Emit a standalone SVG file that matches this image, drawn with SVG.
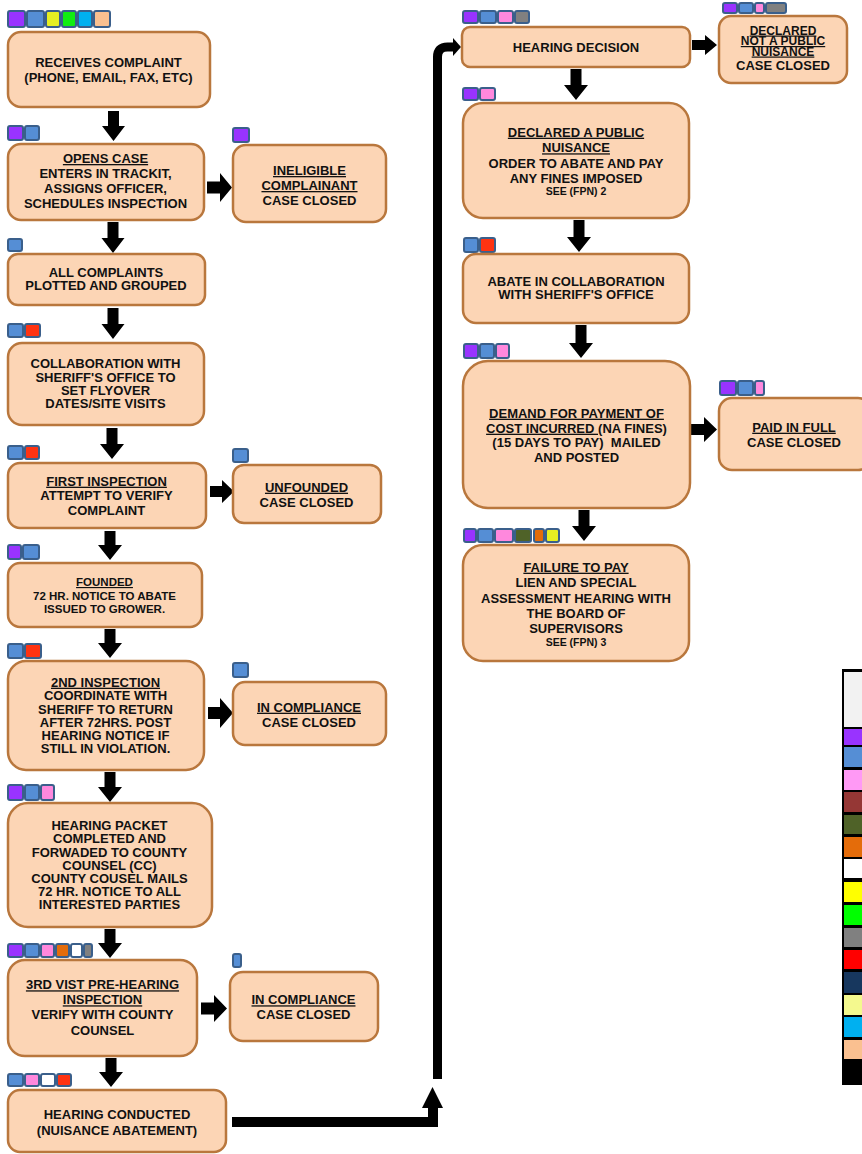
<svg xmlns="http://www.w3.org/2000/svg" width="862" height="1154" viewBox="0 0 862 1154">
<style>
.box{fill:#FCD5B5;stroke:#B9773D;stroke-width:2.5}
.t{font-family:"Liberation Sans",Arial,sans-serif;font-weight:bold;font-size:13px;text-anchor:middle;fill:#111}
.s{font-size:11.5px}
.xs{font-size:10.5px}
.m{font-size:12px}
.u{text-decoration:underline}
.bd rect{stroke:#3A5F8B;stroke-width:2}
.arr{fill:#000}
.pu{fill:#9933FF}.bl{fill:#558ED5}.ye{fill:#E6EF22}.gr{fill:#11EE11}.cy{fill:#00B0F0}.pe{fill:#FAC090}
.re{fill:#FF3311}.pk{fill:#FF88DD}.or{fill:#E46C0A}.wh{fill:#FFFFFF}.gy{fill:#808080}.ol{fill:#4F6228}
</style>
<rect width="862" height="1154" fill="#FFFFFF"/>

<!-- connectors -->
<g id="connectors" class="arr">
<polygon points="108,111 119,111 119,126 125,126 113.5,141 102,126 108,126"/>
<polygon points="107.5,222 118.5,222 118.5,238 124.5,238 113,253 101.5,238 107.5,238"/>
<polygon points="107.5,308 118.5,308 118.5,324 124.5,324 113,339 101.5,324 107.5,324"/>
<polygon points="106.5,428 117.5,428 117.5,444 124,444 112,459 100,444 106.5,444"/>
<polygon points="104.5,531 115.5,531 115.5,545 122,545 110,560 98,545 104.5,545"/>
<polygon points="104.5,629 115.5,629 115.5,643 122,643 110,658 98,643 104.5,643"/>
<polygon points="104.5,772 115.5,772 115.5,787 122,787 110,802 98,787 104.5,787"/>
<polygon points="104.5,929 115.5,929 115.5,943 122,943 110,958 98,943 104.5,943"/>
<polygon points="105.5,1058 116.5,1058 116.5,1072 123,1072 111,1087 99,1072 105.5,1072"/>
<polygon points="207,181.5 220,181.5 220,173 232,187.5 220,202 220,193.5 207,193.5"/>
<polygon points="210,486 222,486 222,480 234,491.5 222,503 222,497 210,497"/>
<polygon points="208,707 220,707 220,698 233,713 220,728 220,719 208,719"/>
<polygon points="201,1002.5 214,1002.5 214,995 227,1008.5 214,1022 214,1014.5 201,1014.5"/>
<polygon points="692,40 705,40 705,35 717,45 705,55 705,50 692,50"/>
<polygon points="691,424 704,424 704,417 717,429.5 704,442 704,435 691,435"/>
<polygon points="570.5,69 581.5,69 581.5,85 588,85 576,100 564,85 570.5,85"/>
<polygon points="573.5,220 584.5,220 584.5,237 591,237 579,252 567,237 573.5,237"/>
<polygon points="575.5,325 586.5,325 586.5,343 593,343 581,358 569,343 575.5,343"/>
<polygon points="578.5,510 589.5,510 589.5,526 596,526 584,541 572,526 578.5,526"/>
<polygon points="232,1117 428,1117 428,1108 422,1108 432.5,1087 443,1108 438,1108 438,1127 232,1127"/>
<path d="M437.5,1079 V57 Q437.5,47 447.5,47 H455" fill="none" stroke="#000" stroke-width="9"/>
<polygon points="453,38 461,47 453,56"/>
</g>

<g id="n1">
<g class="bd"><rect class="pu" x="8" y="11" width="17" height="16" rx="2"/><rect class="bl" x="27" y="11" width="17" height="16" rx="2"/><rect class="ye" x="46" y="11" width="14" height="16" rx="2"/><rect class="gr" x="62" y="11" width="14" height="16" rx="2"/><rect class="cy" x="78" y="11" width="14" height="16" rx="2"/><rect class="pe" x="94" y="11" width="16" height="16" rx="2"/></g>
<rect class="box" x="8" y="32" width="202" height="75" rx="13"/>
<text class="t" x="108.5" y="67">RECEIVES COMPLAINT</text>
<text class="t" x="108.5" y="82">(PHONE, EMAIL, FAX, ETC)</text>
</g>

<g id="n2">
<g class="bd"><rect class="pu" x="8" y="126" width="15" height="14" rx="2"/><rect class="bl" x="25" y="126" width="14" height="14" rx="2"/></g>
<rect class="box" x="8" y="144" width="196" height="76" rx="13"/>
<text class="t" x="105.5" y="163"><tspan class="u">OPENS CASE</tspan></text>
<text class="t" x="105.5" y="178">ENTERS IN TRACKIT,</text>
<text class="t" x="105.5" y="193">ASSIGNS OFFICER,</text>
<text class="t" x="105.5" y="207.5">SCHEDULES INSPECTION</text>
</g>

<g id="n2b">
<g class="bd"><rect class="pu" x="233" y="128" width="16" height="14" rx="2"/></g>
<rect class="box" x="233" y="145" width="153" height="77" rx="13"/>
<text class="t" x="309.5" y="175"><tspan class="u">INELIGIBLE</tspan></text>
<text class="t" x="309.5" y="190"><tspan class="u">COMPLAINANT</tspan></text>
<text class="t" x="309.5" y="205">CASE CLOSED</text>
</g>

<g id="n3">
<g class="bd"><rect class="bl" x="8" y="239" width="14" height="12" rx="2"/></g>
<rect class="box" x="8" y="254" width="197" height="51" rx="10"/>
<text class="t" x="106" y="277">ALL COMPLAINTS</text>
<text class="t" x="106" y="289.5">PLOTTED AND GROUPED</text>
</g>

<g id="n4">
<g class="bd"><rect class="bl" x="8" y="324" width="15" height="13" rx="2"/><rect class="re" x="25" y="324" width="15" height="13" rx="2"/></g>
<rect class="box" x="8" y="343" width="196" height="82" rx="14"/>
<text class="t" x="105.5" y="368.3">COLLABORATION WITH</text>
<text class="t" x="105.5" y="381.5">SHERIFF'S OFFICE TO</text>
<text class="t" x="105.5" y="394.5">SET FLYOVER</text>
<text class="t" x="105.5" y="407.5">DATES/SITE VISITS</text>
</g>

<g id="n5">
<g class="bd"><rect class="bl" x="8" y="446" width="15" height="13" rx="2"/><rect class="re" x="25" y="446" width="14" height="13" rx="2"/></g>
<rect class="box" x="8" y="463" width="198" height="65" rx="12"/>
<text class="t" x="106.5" y="485.7"><tspan class="u">FIRST INSPECTION</tspan></text>
<text class="t" x="106.5" y="500">ATTEMPT TO VERIFY</text>
<text class="t" x="106.5" y="515">COMPLAINT</text>
</g>

<g id="n5b">
<g class="bd"><rect class="bl" x="233" y="449" width="15" height="13" rx="2"/></g>
<rect class="box" x="233" y="465" width="148" height="58" rx="11"/>
<text class="t" x="306.5" y="491.7"><tspan class="u">UNFOUNDED</tspan></text>
<text class="t" x="306.5" y="507.3">CASE CLOSED</text>
</g>

<g id="n6">
<g class="bd"><rect class="pu" x="8" y="545" width="13" height="14" rx="2"/><rect class="bl" x="23" y="545" width="16" height="14" rx="2"/></g>
<rect class="box" x="8" y="563" width="194" height="64" rx="12"/>
<text class="t s" x="104.5" y="586"><tspan class="u">FOUNDED</tspan></text>
<text class="t s" x="104.5" y="599.5">72 HR. NOTICE TO ABATE</text>
<text class="t s" x="104.5" y="613.3">ISSUED TO GROWER.</text>
</g>

<g id="n7">
<g class="bd"><rect class="bl" x="8" y="644" width="15" height="14" rx="2"/><rect class="re" x="25" y="644" width="16" height="14" rx="2"/></g>
<rect class="box" x="8" y="661" width="196" height="109" rx="18"/>
<text class="t" x="105.5" y="686.7"><tspan class="u">2ND INSPECTION</tspan></text>
<text class="t" x="105.5" y="700.3">COORDINATE WITH</text>
<text class="t" x="105.5" y="713.6">SHERIFF TO RETURN</text>
<text class="t" x="105.5" y="726.9">AFTER 72HRS. POST</text>
<text class="t" x="105.5" y="740">HEARING NOTICE IF</text>
<text class="t" x="105.5" y="753">STILL IN VIOLATION.</text>
</g>

<g id="n7b">
<g class="bd"><rect class="bl" x="233" y="663" width="15" height="14" rx="2"/></g>
<rect class="box" x="233" y="682" width="153" height="63" rx="12"/>
<text class="t" x="309" y="711.7"><tspan class="u">IN COMPLIANCE</tspan></text>
<text class="t" x="309" y="726.7">CASE CLOSED</text>
</g>

<g id="n8">
<g class="bd"><rect class="pu" x="8" y="785" width="15" height="15" rx="2"/><rect class="bl" x="25" y="785" width="14" height="15" rx="2"/><rect class="pk" x="41" y="785" width="13" height="15" rx="2"/></g>
<rect class="box" x="8" y="803" width="204" height="124" rx="20"/>
<text class="t" x="109.5" y="830">HEARING PACKET</text>
<text class="t" x="109.5" y="843.3">COMPLETED AND</text>
<text class="t" x="109.5" y="856.6">FORWADED TO COUNTY</text>
<text class="t" x="109.5" y="869.8">COUNSEL (CC)</text>
<text class="t" x="109.5" y="883">COUNTY COUSEL MAILS</text>
<text class="t" x="109.5" y="896.2">72 HR. NOTICE TO ALL</text>
<text class="t" x="109.5" y="909.4">INTERESTED PARTIES</text>
</g>

<g id="n9">
<g class="bd"><rect class="pu" x="8" y="944" width="15" height="13" rx="2"/><rect class="bl" x="25" y="944" width="14" height="13" rx="2"/><rect class="pk" x="41" y="944" width="13" height="13" rx="2"/><rect class="or" x="56" y="944" width="13" height="13" rx="2"/><rect class="wh" x="71" y="944" width="11" height="13" rx="2"/><rect class="gy" x="84" y="944" width="8" height="13" rx="2"/></g>
<rect class="box" x="8" y="960" width="189" height="96" rx="17"/>
<text class="t" x="102.5" y="989.3"><tspan class="u">3RD VIST PRE-HEARING</tspan></text>
<text class="t" x="102.5" y="1004.3"><tspan class="u">INSPECTION</tspan></text>
<text class="t" x="102.5" y="1019.3">VERIFY WITH COUNTY</text>
<text class="t" x="102.5" y="1035">COUNSEL</text>
</g>

<g id="n9b">
<g class="bd"><rect class="bl" x="233" y="954" width="8" height="13" rx="2"/></g>
<rect class="box" x="230" y="972" width="148" height="69" rx="13"/>
<text class="t" x="303.5" y="1004.3"><tspan class="u">IN COMPLIANCE</tspan></text>
<text class="t" x="303.5" y="1019.3">CASE CLOSED</text>
</g>

<g id="n10">
<g class="bd"><rect class="bl" x="8" y="1074" width="15" height="12" rx="2"/><rect class="pk" x="25" y="1074" width="14" height="12" rx="2"/><rect class="wh" x="41" y="1074" width="14" height="12" rx="2"/><rect class="re" x="57" y="1074" width="14" height="12" rx="2"/></g>
<rect class="box" x="8" y="1090" width="218" height="62" rx="12"/>
<text class="t" x="117" y="1119.3">HEARING CONDUCTED</text>
<text class="t" x="117" y="1135">(NUISANCE ABATEMENT)</text>
</g>

<g id="r1">
<g class="bd"><rect class="pu" x="463" y="11" width="15" height="12" rx="2"/><rect class="bl" x="480" y="11" width="16" height="12" rx="2"/><rect class="pk" x="498" y="11" width="15" height="12" rx="2"/><rect class="gy" x="515" y="11" width="14" height="12" rx="2"/></g>
<rect class="box" x="462" y="27" width="228" height="40" rx="8"/>
<text class="t" x="576" y="52.3">HEARING DECISION</text>
</g>

<g id="r1b">
<g class="bd"><rect class="pu" x="723" y="3" width="14" height="10" rx="2"/><rect class="bl" x="739" y="3" width="14" height="10" rx="2"/><rect class="pk" x="755" y="3" width="9" height="10" rx="2"/><rect class="gy" x="766" y="3" width="20" height="10" rx="2"/></g>
<rect class="box" x="719" y="16" width="128" height="67" rx="12"/>
<text class="t m" x="783" y="34.5"><tspan class="u">DECLARED</tspan></text>
<text class="t m" x="783" y="45"><tspan class="u">NOT A PUBLIC</tspan></text>
<text class="t m" x="783" y="55.5"><tspan class="u">NUISANCE</tspan></text>
<text class="t" x="783" y="70">CASE CLOSED</text>
</g>

<g id="r2">
<g class="bd"><rect class="pu" x="463" y="88" width="15" height="12" rx="2"/><rect class="pk" x="480" y="88" width="15" height="12" rx="2"/></g>
<rect class="box" x="463" y="103" width="226" height="115" rx="20"/>
<text class="t" x="576" y="136.7"><tspan class="u">DECLARED A PUBLIC</tspan></text>
<text class="t" x="576" y="152.3"><tspan class="u">NUISANCE</tspan></text>
<text class="t" x="576" y="168.3">ORDER TO ABATE AND PAY</text>
<text class="t" x="576" y="183.3">ANY FINES IMPOSED</text>
<text class="t xs" x="576" y="195">SEE (FPN) 2</text>
</g>

<g id="r3">
<g class="bd"><rect class="bl" x="464" y="238" width="14" height="14" rx="2"/><rect class="re" x="480" y="238" width="15" height="14" rx="2"/></g>
<rect class="box" x="463" y="254" width="226" height="69" rx="13"/>
<text class="t" x="576" y="286.3">ABATE IN COLLABORATION</text>
<text class="t" x="576" y="298.8">WITH SHERIFF'S OFFICE</text>
</g>

<g id="r4">
<g class="bd"><rect class="pu" x="464" y="344" width="14" height="14" rx="2"/><rect class="bl" x="480" y="344" width="14" height="14" rx="2"/><rect class="pk" x="496" y="344" width="13" height="14" rx="2"/></g>
<rect class="box" x="463" y="361" width="227" height="147" rx="25"/>
<text class="t" x="576.5" y="417.7"><tspan class="u">DEMAND FOR PAYMENT OF</tspan></text>
<text class="t" x="576.5" y="432.7"><tspan class="u">COST INCURRED&#160;</tspan>(NA FINES)</text>
<text class="t" x="576.5" y="447.3">(15 DAYS TO PAY)&#160; MAILED</text>
<text class="t" x="576.5" y="461.7">AND POSTED</text>
</g>

<g id="r4b">
<g class="bd"><rect class="pu" x="720" y="381" width="16" height="14" rx="2"/><rect class="bl" x="738" y="381" width="15" height="14" rx="2"/><rect class="pk" x="755" y="381" width="9" height="14" rx="2"/></g>
<rect class="box" x="719" y="398" width="152" height="72" rx="13"/>
<text class="t" x="794" y="431.7"><tspan class="u">PAID IN FULL</tspan></text>
<text class="t" x="794" y="447.3">CASE CLOSED</text>
</g>

<g id="r5">
<g class="bd"><rect class="pu" x="464" y="529" width="12" height="13" rx="2"/><rect class="bl" x="478" y="529" width="15" height="13" rx="2"/><rect class="pk" x="495" y="529" width="18" height="13" rx="2"/><rect class="ol" x="515" y="529" width="16" height="13" rx="2"/><rect class="or" x="534" y="529" width="10" height="13" rx="2"/><rect class="ye" x="546" y="529" width="13" height="13" rx="2"/></g>
<rect class="box" x="463" y="545" width="226" height="116" rx="20"/>
<text class="t" x="576" y="571.7"><tspan class="u">FAILURE TO PAY</tspan></text>
<text class="t" x="576" y="587.3">LIEN AND SPECIAL</text>
<text class="t" x="576" y="602.5">ASSESSMENT HEARING WITH</text>
<text class="t" x="576" y="617.7">THE BOARD OF</text>
<text class="t" x="576" y="633.3">SUPERVISORS</text>
<text class="t xs" x="576" y="645.7">SEE (FPN) 3</text>
</g>

<g id="legend">
<rect x="842" y="669" width="20" height="416" fill="#000"/>
<rect x="844" y="672" width="18" height="55" fill="#F2F2F2"/>
<rect x="844" y="729" width="18" height="16" fill="#9933FF"/>
<rect x="844" y="747" width="18" height="20" fill="#558ED5"/>
<rect x="844" y="770" width="18" height="20" fill="#FF99F5"/>
<rect x="844" y="792" width="18" height="20" fill="#953735"/>
<rect x="844" y="815" width="18" height="19" fill="#4F6228"/>
<rect x="844" y="837" width="18" height="20" fill="#E46C0A"/>
<rect x="844" y="859" width="18" height="19" fill="#FFFFFF"/>
<rect x="844" y="882" width="18" height="20" fill="#FFFF00"/>
<rect x="844" y="905" width="18" height="20" fill="#00FF00"/>
<rect x="844" y="928" width="18" height="19" fill="#808080"/>
<rect x="844" y="950" width="18" height="19" fill="#FF0000"/>
<rect x="844" y="972" width="18" height="21" fill="#17375E"/>
<rect x="844" y="995" width="18" height="20" fill="#F4F98E"/>
<rect x="844" y="1017" width="18" height="20" fill="#00B0F0"/>
<rect x="844" y="1040" width="18" height="19" fill="#FAC090"/>
</g>
</svg>
